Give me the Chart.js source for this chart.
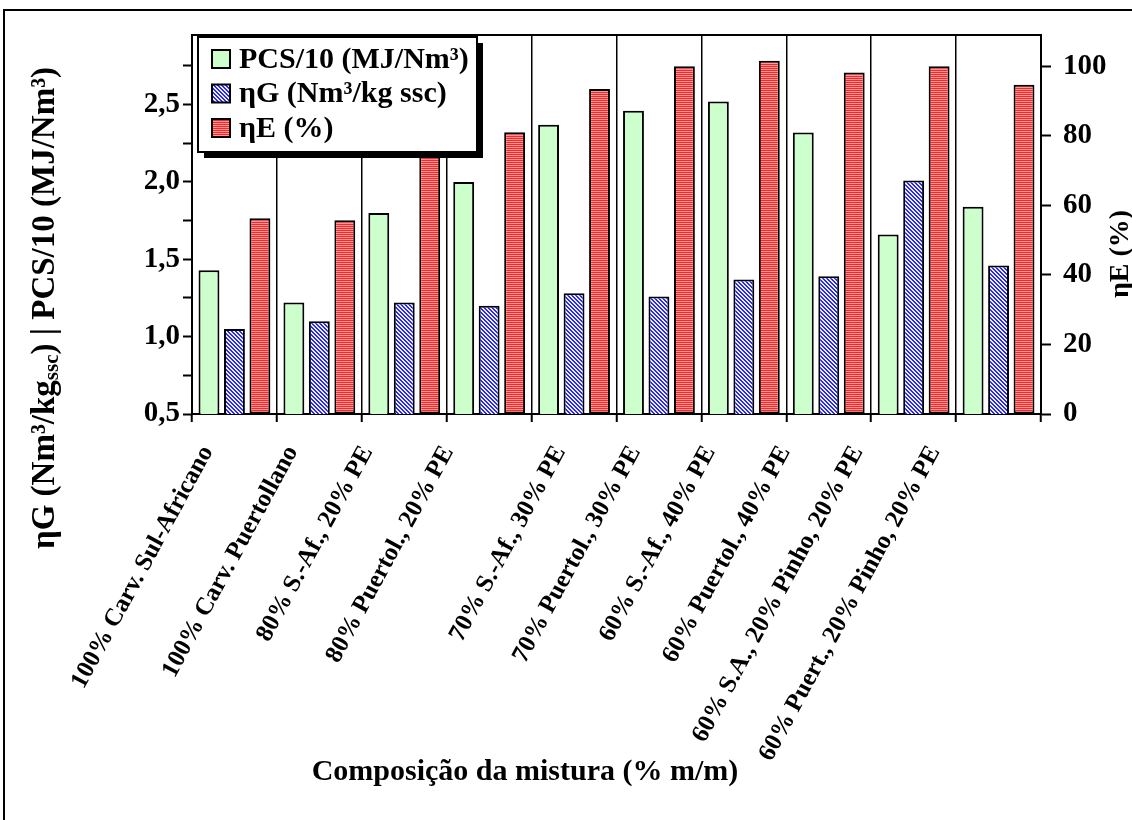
<!DOCTYPE html>
<html>
<head>
<meta charset="utf-8">
<script src="https://cdn.jsdelivr.net/npm/chart.js@4/dist/chart.umd.min.js"></script>
<style>
  html, body { margin: 0; padding: 0; background: #fff; }
  #wrap { width: 1132px; height: 820px; position: relative; }
</style>
</head>
<body>
<div id="wrap"><canvas id="chart"></canvas></div>
<script>
// ── Dados ──────────────────────────────────────────────────────────────
const categories = [
  "100% Carv. Sul-Africano",
  "100% Carv. Puertollano",
  "80% S.-Af., 20% PE",
  "80% Puertol., 20% PE",
  "70% S.-Af., 30% PE",
  "70% Puertol., 30% PE",
  "60% S.-Af., 40% PE",
  "60% Puertol., 40% PE",
  "60% S.A., 20% Pinho, 20% PE",
  "60% Puert., 20% Pinho, 20% PE",
];
const pcs10 = [1.43, 1.22, 1.80, 2.00, 2.37, 2.46, 2.52, 2.32, 1.66, 1.84];
const etaG  = [1.05, 1.10, 1.22, 1.20, 1.28, 1.26, 1.37, 1.39, 2.01, 1.46];
const etaE  = [56.3, 55.7, 77.0, 81.0, 93.5, 100.0, 101.6, 98.2, 100.0, 94.7];

const leftTicks  = [0.5, 0.75, 1.0, 1.25, 1.5, 1.75, 2.0, 2.25, 2.5, 2.75];
const rightTicks = [0, 20, 40, 60, 80, 100];

const seriesNames = ["PCS/10 (MJ/Nm³)", "ηG (Nm³/kg ssc)", "ηE (%)"];

// deslocamento horizontal de cada rótulo do eixo x (como no Excel, irregular)
const labelShift = [-27, -27, -37, -41, -14, -24, -34, -44, -56, -64];

const SERIF = "'Liberation Serif', 'Times New Roman', serif";

// ── Padrões (tramas) ───────────────────────────────────────────────────
function makePattern(w, h, paint) {
	const c = document.createElement("canvas");
	c.width = w; c.height = h;
	const g = c.getContext("2d");
	paint(g);
	return g.createPattern(c, "repeat");
}
const ctx0 = document.getElementById("chart").getContext("2d");
const blueHatch = makePattern(4, 4, g => {
	g.fillStyle = "#ececff"; g.fillRect(0, 0, 4, 4);
	g.fillStyle = "#2a2af0";
	for (let y = 0; y < 4; y++)
		for (let x = 0; x < 4; x++)
			if (((x - y + 8) % 4) < 2) g.fillRect(x, y, 1, 1);
});
const redStripes = makePattern(2, 2, g => {
	g.fillStyle = "#ff2424"; g.fillRect(0, 0, 2, 1);
	g.fillStyle = "#ff9a9a"; g.fillRect(0, 1, 2, 1);
});
const greenFill = "#ccffcc";

// ── Plugin: moldura, títulos, rótulos x e legenda ──────────────────────
const decorations = {
	id: "decorations",
	afterDraw(chart) {
		const ctx = chart.ctx;
		const a = chart.chartArea;
		const xs = chart.scales.x;
		ctx.save();

		// moldura exterior
		ctx.strokeStyle = "#000";
		ctx.lineWidth = 2;
		ctx.strokeRect(4, 10, 1140, 830);

		// linha superior da área do gráfico
		ctx.beginPath();
		ctx.moveTo(a.left, a.top);
		ctx.lineTo(a.right, a.top);
		ctx.stroke();

		ctx.fillStyle = "#000";

		// rótulos das categorias, rodados ~61°
		ctx.font = "bold 25px " + SERIF;
		ctx.textAlign = "right";
		ctx.textBaseline = "middle";
		chart.data.labels.forEach((lab, i) => {
			ctx.save();
			ctx.translate(xs.getPixelForTick(i) + labelShift[i], a.bottom + 34);
			ctx.rotate(-61.5 * Math.PI / 180);
			ctx.fillText(lab, 0, 0);
			ctx.restore();
		});

		// título do eixo x
		ctx.font = "bold 30px " + SERIF;
		ctx.textAlign = "center";
		ctx.fillText("Composição da mistura (% m/m)", 525, 772);

		// título do eixo direito
		ctx.save();
		ctx.translate(1121, 254);
		ctx.rotate(-Math.PI / 2);
		ctx.font = "bold 28px " + SERIF;
		ctx.fillText("ηE (%)", 0, 0);
		ctx.restore();

		// título do eixo esquerdo (com índice "ssc")
		const parts = [
			{ t: "ηG (Nm³/kg", size: 33, dy: 0 },
			{ t: "ssc", size: 21, dy: 8 },
			{ t: ") | PCS/10 (MJ/Nm³)", size: 33, dy: 0 },
		];
		let total = 0;
		parts.forEach(p => { ctx.font = "bold " + p.size + "px " + SERIF; p.w = ctx.measureText(p.t).width; total += p.w; });
		ctx.save();
		ctx.translate(45, 308);
		ctx.rotate(-Math.PI / 2);
		ctx.textAlign = "left";
		let x = -total / 2;
		parts.forEach(p => {
			ctx.font = "bold " + p.size + "px " + SERIF;
			ctx.fillText(p.t, x, p.dy);
			x += p.w;
		});
		ctx.restore();

		// legenda com sombra
		const lx = 198, ly = 37, lw = 279, lh = 115;
		ctx.fillStyle = "#000";
		ctx.fillRect(lx + 6, ly + 6, lw, lh);
		ctx.fillStyle = "#fff";
		ctx.fillRect(lx, ly, lw, lh);
		ctx.strokeRect(lx, ly, lw, lh);
		ctx.font = "bold 30px " + SERIF;
		ctx.textAlign = "left";
		chart.data.datasets.forEach((ds, i) => {
			const cy = 59 + i * 34.5;
			ctx.fillStyle = ds.backgroundColor;
			ctx.fillRect(212, cy - 9, 18, 18);
			ctx.strokeStyle = "#000";
			ctx.lineWidth = 2;
			ctx.strokeRect(212, cy - 9, 18, 18);
			ctx.fillStyle = "#000";
			ctx.fillText(ds.label, 239, cy + 1);
		});
		ctx.restore();
	},
};

// ── Gráfico ─────────────────────────────────────────────────────────────
Chart.defaults.font.family = SERIF;
Chart.defaults.font.weight = "bold";
Chart.defaults.color = "#000";

const barCommon = {
	borderColor: "#000",
	borderWidth: 2,
	borderSkipped: false,
	categoryPercentage: 0.9,
	barPercentage: 0.82,
};

new Chart(ctx0, {
	type: "bar",
	data: {
		labels: categories,
		datasets: [
			{ ...barCommon, label: seriesNames[0], data: pcs10, backgroundColor: greenFill,  yAxisID: "y"  },
			{ ...barCommon, label: seriesNames[1], data: etaG,  backgroundColor: blueHatch,  yAxisID: "y"  },
			{ ...barCommon, label: seriesNames[2], data: etaE,  backgroundColor: redStripes, yAxisID: "y1" },
		],
	},
	options: {
		responsive: true,
		maintainAspectRatio: false,
		animation: false,
		layout: { padding: { top: 35, left: 0, right: 0, bottom: 0 } },
		plugins: {
			legend:  { display: false },
			tooltip: { enabled: false },
		},
		scales: {
			x: {
				offset: true,
				grid: { offset: true, color: "#000", lineWidth: 1.5, tickLength: 8, tickColor: "#000", tickWidth: 2 },
				border: { display: true, color: "#000", width: 2 },
				ticks: { display: false },
				afterFit(scale) { scale.height = 406; },
			},
			y: {
				position: "left",
				min: 0.5,
				max: 2.95,
				grid: { drawOnChartArea: false, tickLength: 9, tickColor: "#000", tickWidth: 2 },
				border: { display: true, color: "#000", width: 2 },
				afterBuildTicks(scale) { scale.ticks = leftTicks.map(v => ({ value: v })); },
				ticks: {
					padding: 3,
					font: { size: 29, weight: "bold" },
					callback: v => (Math.abs(v * 2 - Math.round(v * 2)) < 1e-6 ? v.toFixed(1).replace(".", ",") : ""),
				},
				afterFit(scale) { scale.width = 192; },
			},
			y1: {
				position: "right",
				min: 0,
				max: 109,
				grid: { drawOnChartArea: false, tickLength: 10, tickColor: "#000", tickWidth: 2 },
				border: { display: true, color: "#000", width: 2 },
				afterBuildTicks(scale) { scale.ticks = rightTicks.map(v => ({ value: v })); },
				ticks: {
					padding: 12,
					font: { size: 29, weight: "bold" },
				},
				afterFit(scale) { scale.width = 91; },
			},
		},
	},
	plugins: [decorations],
});
</script>
</body>
</html>
